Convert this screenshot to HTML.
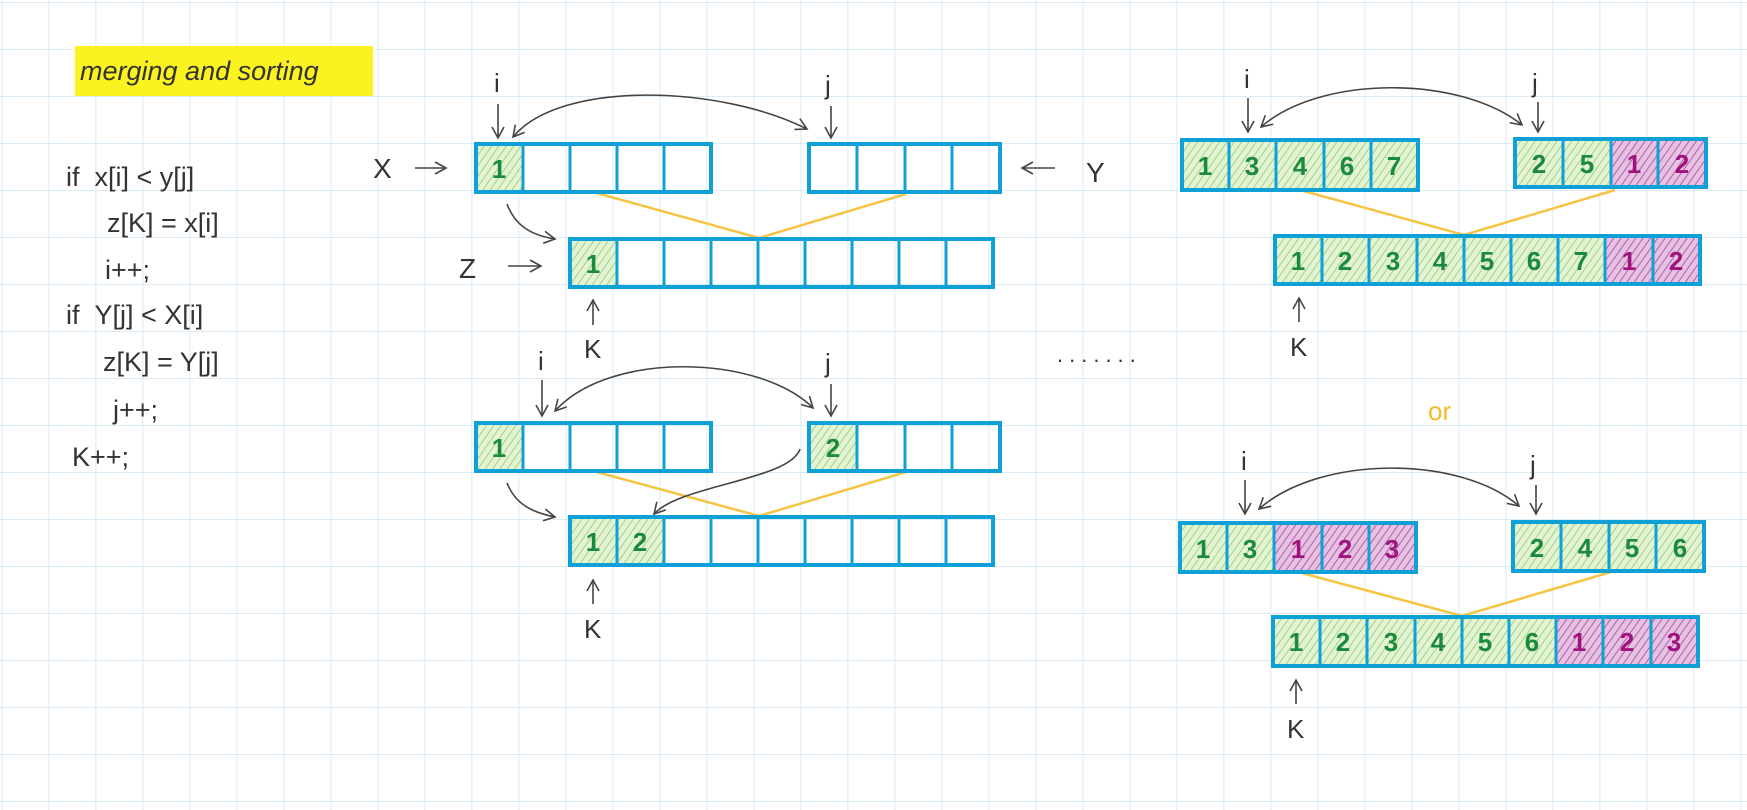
<!DOCTYPE html>
<html><head><meta charset="utf-8"><style>
html,body{margin:0;padding:0;background:#fff;}
svg{display:block;}
.t{font-family:"Liberation Sans",sans-serif;fill:#333;font-weight:normal;}
.n{font-family:"Liberation Sans",sans-serif;font-weight:bold;font-size:26px;text-anchor:middle;}
</style></head><body>
<svg width="1747" height="810" viewBox="0 0 1747 810" xmlns="http://www.w3.org/2000/svg">
<defs>
<pattern id="grid" x="1.5" y="2" width="47" height="47" patternUnits="userSpaceOnUse">
<path d="M0 0H47M0 0V47" stroke="#cfe6f3" stroke-width="1.6" fill="none"/>
</pattern>
<pattern id="gh" width="6" height="6" patternUnits="userSpaceOnUse" patternTransform="rotate(35)">
<rect width="6" height="6" fill="#e4f3d6"/><line x1="0" y1="0" x2="0" y2="6" stroke="#9fd67a" stroke-width="2"/>
</pattern>
<pattern id="ph" width="6" height="6" patternUnits="userSpaceOnUse" patternTransform="rotate(35)">
<rect width="6" height="6" fill="#e6c2e2"/><line x1="0" y1="0" x2="0" y2="6" stroke="#b45cab" stroke-width="2"/>
</pattern>
<marker id="ah" markerWidth="14" markerHeight="14" refX="12" refY="7" orient="auto-start-reverse" markerUnits="userSpaceOnUse">
<path d="M1 1 L12 7 L1 13" fill="none" stroke="#444" stroke-width="1.6"/>
</marker>
</defs>
<rect width="1747" height="810" fill="url(#grid)"/>

<!-- title -->
<rect x="75" y="46" width="298" height="50" fill="#fbf220"/>
<text x="80" y="80" class="t" font-size="27" font-style="italic" fill="#222">merging and sorting</text>

<!-- code -->
<g class="t" font-size="27">
<text x="66" y="186">if&#160;&#160;x[i] &lt; y[j]</text>
<text x="107" y="232">z[K] = x[i]</text>
<text x="105" y="279">i++;</text>
<text x="66" y="324">if&#160;&#160;Y[j] &lt; X[i]</text>
<text x="103" y="371">z[K] = Y[j]</text>
<text x="113" y="419">j++;</text>
<text x="72" y="466">K++;</text>
</g>

<!-- labels left group -->
<g class="t" font-size="28">
<text x="373" y="178">X</text>
<text x="1086" y="182">Y</text>
<text x="459" y="278">Z</text>
</g>
<g stroke="#444" stroke-width="1.6" fill="none">
<line x1="415" y1="168" x2="446" y2="168" marker-end="url(#ah)"/>
<line x1="1055" y1="168" x2="1022" y2="168" marker-end="url(#ah)"/>
<line x1="508" y1="266" x2="541" y2="266" marker-end="url(#ah)"/>
</g>

<!-- yellow connectors -->
<g stroke="#f6c443" stroke-width="2.5" fill="none">
<polyline points="593,192 759,238 906,194"/>
<polyline points="593,471 759,516 906,472"/>
<polyline points="1300,190 1464,235 1615,190"/>
<polyline points="1298,572 1462,616 1611,572"/>
</g>

<!-- pointer arrows -->
<g stroke="#444" stroke-width="1.6" fill="none">
<!-- group1 -->
<line x1="498" y1="104" x2="498" y2="138" marker-end="url(#ah)"/>
<line x1="831" y1="106" x2="831" y2="138" marker-end="url(#ah)"/>
<path d="M513 137 C560 80 720 85 807 129" marker-start="url(#ah)" marker-end="url(#ah)"/>
<path d="M507 204 C515 225 530 235 555 239" marker-end="url(#ah)"/>
<line x1="593" y1="325" x2="593" y2="300" marker-end="url(#ah)"/>
<!-- group2 -->
<line x1="542" y1="380" x2="542" y2="416" marker-end="url(#ah)"/>
<line x1="831" y1="384" x2="831" y2="416" marker-end="url(#ah)"/>
<path d="M555 411 C610 350 760 355 813 408" marker-start="url(#ah)" marker-end="url(#ah)"/>
<path d="M507 483 C515 503 530 512 555 517" marker-end="url(#ah)"/>
<path d="M800 449 C790 480 680 485 654 514" marker-end="url(#ah)"/>
<line x1="593" y1="604" x2="593" y2="580" marker-end="url(#ah)"/>
<!-- right1 -->
<line x1="1248" y1="98" x2="1248" y2="132" marker-end="url(#ah)"/>
<line x1="1538" y1="102" x2="1538" y2="132" marker-end="url(#ah)"/>
<path d="M1261 127 C1320 75 1460 75 1522 125" marker-start="url(#ah)" marker-end="url(#ah)"/>
<line x1="1299" y1="322" x2="1299" y2="298" marker-end="url(#ah)"/>
<!-- right2 -->
<line x1="1245" y1="480" x2="1245" y2="514" marker-end="url(#ah)"/>
<line x1="1536" y1="485" x2="1536" y2="514" marker-end="url(#ah)"/>
<path d="M1259 509 C1320 455 1460 455 1519 506" marker-start="url(#ah)" marker-end="url(#ah)"/>
<line x1="1296" y1="704" x2="1296" y2="680" marker-end="url(#ah)"/>
</g>
<g class="t" font-size="26">
<text x="494" y="92">i</text>
<text x="825" y="94">j</text>
<text x="584" y="358">K</text>
<text x="538" y="370">i</text>
<text x="825" y="372">j</text>
<text x="584" y="638">K</text>
<text x="1244" y="88">i</text>
<text x="1532" y="92">j</text>
<text x="1290" y="356">K</text>
<text x="1241" y="470">i</text>
<text x="1530" y="474">j</text>
<text x="1287" y="738">K</text>
</g>
<text x="1057" y="362" class="t" font-size="22" letter-spacing="6">.......</text>
<text x="1428" y="420" font-family="Liberation Sans,sans-serif" font-size="26" fill="#f6b92b">or</text>

<!-- arrays -->
<g stroke="#0ea0d6" stroke-width="4" fill="none">
<!-- A1 -->
<rect x="476" y="144" width="47" height="48" fill="url(#gh)" stroke="none"/>
<rect x="476" y="144" width="235" height="48"/>
<path d="M523 144V192M570 144V192M617 144V192M664 144V192" stroke-width="3"/>
<rect x="809" y="144" width="191" height="48"/>
<path d="M857 144V192M905 144V192M952 144V192" stroke-width="3"/>
<rect x="570" y="239" width="47" height="48" fill="url(#gh)" stroke="none"/>
<rect x="570" y="239" width="423" height="48"/>
<path d="M617 239V287M664 239V287M711 239V287M758 239V287M805 239V287M852 239V287M899 239V287M946 239V287" stroke-width="3"/>
<!-- A2 -->
<rect x="476" y="423" width="47" height="48" fill="url(#gh)" stroke="none"/>
<rect x="476" y="423" width="235" height="48"/>
<path d="M523 423V471M570 423V471M617 423V471M664 423V471" stroke-width="3"/>
<rect x="809" y="423" width="48" height="48" fill="url(#gh)" stroke="none"/>
<rect x="809" y="423" width="191" height="48"/>
<path d="M857 423V471M905 423V471M952 423V471" stroke-width="3"/>
<rect x="570" y="517" width="94" height="48" fill="url(#gh)" stroke="none"/>
<rect x="570" y="517" width="423" height="48"/>
<path d="M617 517V565M664 517V565M711 517V565M758 517V565M805 517V565M852 517V565M899 517V565M946 517V565" stroke-width="3"/>
<!-- R1 -->
<rect x="1182" y="140" width="236" height="50" fill="url(#gh)" stroke="none"/>
<rect x="1182" y="140" width="236" height="50"/>
<path d="M1229 140V190M1276 140V190M1324 140V190M1371 140V190" stroke-width="3"/>
<rect x="1515" y="139" width="96" height="48" fill="url(#gh)" stroke="none"/>
<rect x="1611" y="139" width="95" height="48" fill="url(#ph)" stroke="none"/>
<rect x="1515" y="139" width="191" height="48"/>
<path d="M1563 139V187M1611 139V187M1658 139V187" stroke-width="3"/>
<rect x="1275" y="236" width="330" height="48" fill="url(#gh)" stroke="none"/>
<rect x="1605" y="236" width="95" height="48" fill="url(#ph)" stroke="none"/>
<rect x="1275" y="236" width="425" height="48"/>
<path d="M1322 236V284M1369 236V284M1417 236V284M1464 236V284M1511 236V284M1558 236V284M1605 236V284M1653 236V284" stroke-width="3"/>
<!-- R2 -->
<rect x="1180" y="523" width="94" height="49" fill="url(#gh)" stroke="none"/>
<rect x="1274" y="523" width="142" height="49" fill="url(#ph)" stroke="none"/>
<rect x="1180" y="523" width="236" height="49"/>
<path d="M1227 523V572M1274 523V572M1322 523V572M1369 523V572" stroke-width="3"/>
<rect x="1513" y="522" width="191" height="49" fill="url(#gh)" stroke="none"/>
<rect x="1513" y="522" width="191" height="49"/>
<path d="M1561 522V571M1609 522V571M1656 522V571" stroke-width="3"/>
<rect x="1273" y="617" width="283" height="49" fill="url(#gh)" stroke="none"/>
<rect x="1556" y="617" width="142" height="49" fill="url(#ph)" stroke="none"/>
<rect x="1273" y="617" width="425" height="49"/>
<path d="M1320 617V666M1367 617V666M1415 617V666M1462 617V666M1509 617V666M1556 617V666M1603 617V666M1651 617V666" stroke-width="3"/>
</g>

<!-- numbers -->
<g class="n" fill="#1c8a3c">
<text x="499" y="178">1</text>
<text x="593" y="273">1</text>
<text x="499" y="457">1</text>
<text x="833" y="457">2</text>
<text x="593" y="551">1</text><text x="640" y="551">2</text>
<text x="1205" y="175">1</text><text x="1252" y="175">3</text><text x="1300" y="175">4</text><text x="1347" y="175">6</text><text x="1394" y="175">7</text>
<text x="1539" y="173">2</text><text x="1587" y="173">5</text>
<text x="1298" y="270">1</text><text x="1345" y="270">2</text><text x="1393" y="270">3</text><text x="1440" y="270">4</text><text x="1487" y="270">5</text><text x="1534" y="270">6</text><text x="1581" y="270">7</text>
<text x="1203" y="558">1</text><text x="1250" y="558">3</text>
<text x="1537" y="557">2</text><text x="1585" y="557">4</text><text x="1632" y="557">5</text><text x="1680" y="557">6</text>
<text x="1296" y="651">1</text><text x="1343" y="651">2</text><text x="1391" y="651">3</text><text x="1438" y="651">4</text><text x="1485" y="651">5</text><text x="1532" y="651">6</text>
</g>
<g class="n" fill="#a0137c">
<text x="1634" y="173">1</text><text x="1682" y="173">2</text>
<text x="1629" y="270">1</text><text x="1676" y="270">2</text>
<text x="1298" y="558">1</text><text x="1345" y="558">2</text><text x="1392" y="558">3</text>
<text x="1579" y="651">1</text><text x="1627" y="651">2</text><text x="1674" y="651">3</text>
</g>
</svg>
</body></html>
